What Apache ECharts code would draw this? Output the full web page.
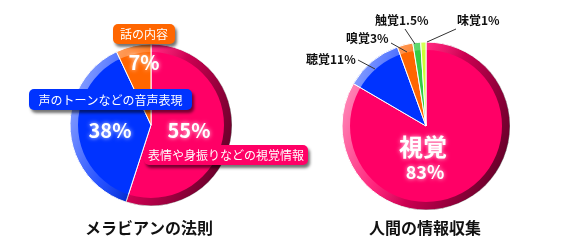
<!DOCTYPE html>
<html><head><meta charset="utf-8">
<script src="https://cdn.jsdelivr.net/npm/echarts@6/dist/echarts.min.js"></script>
<style>html,body{margin:0;padding:0;background:#fff}#c{width:580px;height:250px}</style>
</head><body><div id="c"></div>
<script>
// ---- data ----
const leftTitle = 'メラビアンの法則';
const leftNames = ['表情や身振りなどの視覚情報', '声のトーンなどの音声表現', '話の内容'];
const leftValues = [55, 38, 7];
const rightTitle = '人間の情報収集';
const rightNames = ['視覚', '聴覚', '嗅覚', '触覚', '味覚'];
const rightValues = [83, 11, 3, 1.5, 1];

// ---- styles ----
const leftColors = ['#ff0066', '#0033ff', '#ff6600'];
const rightColors = ['#ff0066', '#0033ff', '#ff6600', '#33cc44', '#ccff33'];
const FONT = '"Noto Sans CJK JP", "Noto Sans", sans-serif';
const LC = [151, 125], LR = 81;
const RC = [426, 126], RR = 84;

const ringGrad = {
  type: 'linear', x: 0, y: 0.3, x2: 1, y2: 0.7,
  colorStops: [
    { offset: 0, color: 'rgba(255,255,255,0.55)' },
    { offset: 0.35, color: 'rgba(255,255,255,0.15)' },
    { offset: 0.55, color: 'rgba(0,0,0,0.2)' },
    { offset: 1, color: 'rgba(0,0,0,0.62)' }
  ]
};

function pieSeries(center, r, names, values, colors) {
  return {
    type: 'pie', center: center, radius: [0, r], startAngle: 90, clockwise: true,
    label: { show: false }, labelLine: { show: false }, silent: true,
    emphasis: { disabled: true },
    itemStyle: { borderColor: '#ffffff', borderWidth: 1 },
    data: values.map((v, i) => ({ name: names[i], value: v, itemStyle: { color: colors[i] } }))
  };
}
function ringSeries(center, r) {
  return {
    type: 'pie', center: center, radius: [r - 8, r], silent: true,
    label: { show: false }, labelLine: { show: false }, emphasis: { disabled: true },
    itemStyle: { color: ringGrad, borderWidth: 0 },
    data: [{ value: 1 }]
  };
}

const glow = { textShadowColor: 'rgba(255,255,255,0.85)', textShadowBlur: 4 };

function box(x, y, w, h, color, text) {
  return {
    type: 'group', children: [
      { type: 'rect', shape: { x: x, y: y, width: w, height: h, r: 5 },
        style: { fill: color, shadowColor: 'rgba(0,0,0,0.55)', shadowBlur: 3, shadowOffsetX: 2, shadowOffsetY: 3 }, z: 10 },
      { type: 'text', x: x + w / 2, y: y + h / 2 + 0.5, z: 11,
        style: { text: text, fill: '#fff', font: '12px ' + FONT, align: 'center', verticalAlign: 'middle' } }
    ]
  };
}
function bigText(x, y, text, size) {
  return { type: 'text', x: x, y: y, z: 12,
    style: Object.assign({ text: text, fill: '#fff', font: 'bold ' + size + 'px ' + FONT, align: 'center', verticalAlign: 'middle' }, glow) };
}
function smallLabel(x, y, text) {
  return { type: 'text', x: x, y: y, z: 12,
    style: { text: text, fill: '#111', font: 'bold 12px ' + FONT, align: 'left', verticalAlign: 'middle' } };
}
function line(points) {
  return { type: 'polyline', z: 12, shape: { points: points }, style: { stroke: '#333', lineWidth: 1, fill: null } };
}

const graphics = [
  // left pie
  box(113, 24, 62, 20, leftColors[2], leftNames[2]),
  box(29, 89, 163, 21, leftColors[1], leftNames[1]),
  box(144, 145, 164, 20, leftColors[0], leftNames[0]),
  bigText(144, 62, leftValues[2] + '%', 20),
  bigText(110, 130, leftValues[1] + '%', 20),
  bigText(189, 130, leftValues[0] + '%', 20),
  { type: 'text', x: 149, y: 228, style: { text: leftTitle, fill: '#111', font: 'bold 16px ' + FONT, align: 'center', verticalAlign: 'middle' } },
  // right pie
  bigText(423, 147, rightNames[0], 24),
  bigText(425, 172, rightValues[0] + '%', 18),
  smallLabel(306, 59, rightNames[1] + rightValues[1] + '%'),
  smallLabel(346, 38, rightNames[2] + rightValues[2] + '%'),
  smallLabel(375, 20, rightNames[3] + rightValues[3] + '%'),
  smallLabel(457, 20, rightNames[4] + rightValues[4] + '%'),
  line([[358, 60], [375, 69]]),
  line([[391, 43], [407, 52]]),
  line([[405, 29], [415, 44]]),
  line([[456, 29], [427, 42]]),
  { type: 'text', x: 425, y: 228, style: { text: rightTitle, fill: '#111', font: 'bold 16px ' + FONT, align: 'center', verticalAlign: 'middle' } }
];

const chart = echarts.init(document.getElementById('c'), null, { renderer: 'canvas' });
chart.setOption({
  animation: false,
  backgroundColor: '#ffffff',
  series: [
    pieSeries(LC, LR, leftNames, leftValues, leftColors),
    ringSeries(LC, LR),
    pieSeries(RC, RR, rightNames, rightValues, rightColors),
    ringSeries(RC, RR)
  ],
  graphic: graphics
});
</script></body></html>
